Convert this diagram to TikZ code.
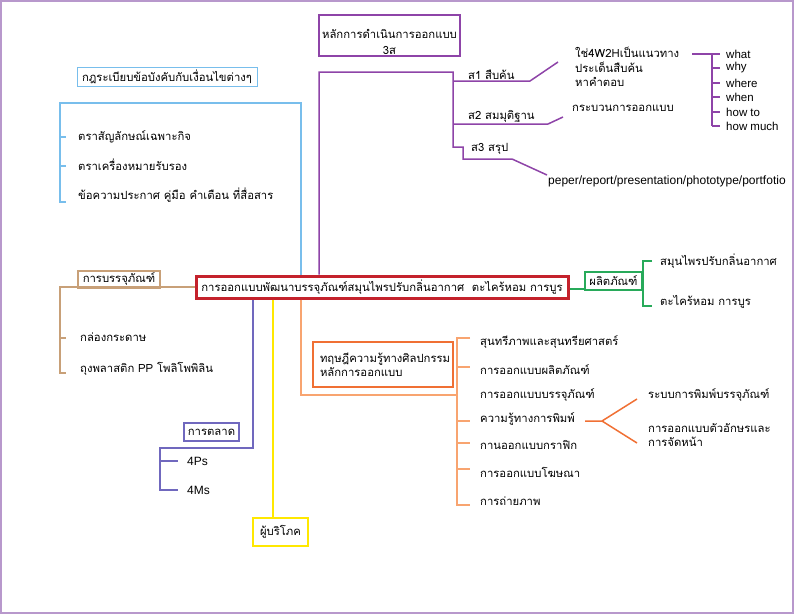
\documentclass[tikz,border=0pt]{standalone}
\usepackage{fontspec}
\setmainfont[Script=Thai]{Loma}
\newfontfamily\lat{Liberation Sans}
\definecolor{framec}{RGB}{184,152,204}
\definecolor{hubred}{RGB}{196,34,44}
\definecolor{spurple}{RGB}{142,68,168}
\definecolor{rblue}{RGB}{120,190,236}
\definecolor{ptan}{RGB}{200,160,120}
\definecolor{pgreen}{RGB}{40,170,90}
\definecolor{olight}{RGB}{248,164,112}
\definecolor{odark}{RGB}{240,112,52}
\definecolor{mindigo}{RGB}{112,104,190}
\definecolor{cyellow}{RGB}{255,232,0}
\begin{document}
\begin{tikzpicture}[x=1pt, y=-1pt,
  every node/.style={inner sep=0pt, font=\fontsize{11.3}{14.5}\selectfont},
  item/.style={anchor=west, align=left},
  latin/.style={font=\lat\fontsize{12}{14.5}\selectfont},
  boxed/.style={draw, line width=1.2pt, inner xsep=3pt, inner ysep=2pt},
  br/.style={line width=1.5pt}]
\useasboundingbox (0,0) rectangle (794,614);
\draw[framec, line width=1.5pt] (1,1) rectangle (793,613);

\node[draw=hubred, line width=3pt, minimum width=372, minimum height=22] (hub) at (382,287) {การออกแบบพัฒนาบรรจุภัณฑ์สมุนไพรปรับกลิ่นอากาศ \ ตะไคร้หอม การบูร};

\node[align=center] (plan) at (389.5,42) {หลักการดำเนินการออกแบบ\\[2pt]3ส};
\draw[spurple, line width=1.2pt] (319,15) rectangle (460,56);
\node[item] (s1) at (468,75) {ส1 สืบค้น};
\node[item] (s2) at (468,116) {ส2 สมมุติฐาน};
\node[item] (s3) at (471,149) {ส3 สรุป};
\node[item, anchor=north west] (w) at (575,47) {ใช่4W2Hเป็นแนวทาง\\ประเด็นสืบค้น\\หาคำตอบ};
\node[item] (proc) at (572,108) {กระบวนการออกแบบ};
\node[item, latin] (out) at (548,181) {peper/report/presentation/phototype/portfotio};
\coordinate (sRoot) at (319,72);
\coordinate (sTop) at (453,72);
\coordinate (sA) at (558,62);
\coordinate (sB) at (563,117);
\coordinate (sC) at (547,175);
\coordinate (sBr) at (712,54);
\draw[spurple, br] (hub.north -| sRoot) -- (sRoot) -- (sTop) -- (453,147) -- (463,147) -- (463,159) -- (512,159) -- (sC);
\draw[spurple, br] (453,81) -- (530,81) -- (sA);
\draw[spurple, br] (453,124) -- (548,124) -- (sB);
\draw[spurple, br] (692,54) -- (sBr) -- (712,126);
\foreach \y/\t in {54/what, 68/why, 83/where, 97/when, 112/how to, 126/how much}
  \node[item, font=\lat\fontsize{11.5}{14}\selectfont] (q\y) at (726,\y) {\t};
\foreach \y in {54,68,83,97,112,126}
  \draw[spurple, br] (712,\y) -- (720,\y);

\node[boxed, draw=rblue, line width=1pt, minimum width=180, minimum height=19] (rules) at (167,76.5) {กฎระเบียบข้อบังคับกับเงื่อนไขต่างๆ};
\coordinate (bTop) at (301,103);
\coordinate (bLeft) at (60,103);
\node[item] (r1) at (78,137) {ตราสัญลักษณ์เฉพาะกิจ};
\node[item] (r2) at (78,165) {ตราเครื่องหมายรับรอง};
\node[item] (r3) at (78,195) {ข้อความประกาศ คู่มือ คำเตือน ที่สื่อสาร};
\draw[rblue, br] (hub.north -| bTop) -- (bTop) -- (bLeft) -- (60,202) -- (66,202);
\draw[rblue, br] (60,137) -- (66,137) (60,166) -- (66,166);

\node[boxed, draw=ptan, minimum width=82, minimum height=16] (pack) at (119,279.5) {การบรรจุภัณฑ์};
\coordinate (pLeft) at (60,287);
\node[item] (p1) at (80,337) {กล่องกระดาษ};
\node[item] (p2) at (80,369) {ถุงพลาสติก PP โพลิโพพิลิน};
\draw[ptan, br] (hub.west) -- (pLeft) -- (60,373) -- (66,373);
\draw[ptan, br] (60,338) -- (66,338);

\node[boxed, draw=pgreen, minimum width=57, minimum height=18] (prod) at (613.5,281) {ผลิตภัณฑ์};
\coordinate (gLine) at (575,289);
\node[item] (g1) at (660,261) {สมุนไพรปรับกลิ่นอากาศ};
\node[item] (g2) at (660,302) {ตะไคร้หอม การบูร};
\draw[pgreen, br] (hub.east |- gLine) -- (prod.west |- gLine);
\draw[pgreen, br] (652,261) -- (643,261) -- (643,306) -- (652,306);

\node[draw=odark, line width=1.2pt, minimum width=140, minimum height=45, text width=126, align=left] (theory) at (383,364.5) {ทฤษฎีความรู้ทางศิลปกรรม\\หลักการออกแบบ};
\coordinate (oBot) at (301,395);
\draw[olight, br] (hub.south -| oBot) -- (oBot) -- (457,395);
\draw[olight, br] (470,338) -- (457,338) -- (457,505) -- (470,505);
\foreach \y in {367,421,443,469}
  \draw[olight, br] (457,\y) -- (470,\y);
\node[item] (o1) at (480,342) {สุนทรีภาพและสุนทรียศาสตร์};
\node[item] (o2) at (480,370) {การออกแบบผลิตภัณฑ์};
\node[item] (o3) at (480,395) {การออกแบบบรรจุภัณฑ์};
\node[item] (o4) at (480,419) {ความรู้ทางการพิมพ์};
\node[item] (o5) at (480,445) {กานออกแบบกราฟิก};
\node[item] (o6) at (480,472) {การออกแบบโฆษณา};
\node[item] (o7) at (480,501) {การถ่ายภาพ};
\node[item] (t1) at (648,395) {ระบบการพิมพ์บรรจุภัณฑ์};
\node[item, anchor=north west] (t2) at (648,423) {การออกแบบตัวอักษรและ\\การจัดหน้า};
\coordinate (tFork) at (602,421);
\draw[odark, br] (585,421) -- (tFork) -- (637,399);
\draw[odark, br] (tFork) -- (637,443);

\node[boxed, draw=mindigo, minimum width=55, minimum height=18] (mkt) at (211.5,432) {การตลาด};
\coordinate (mk) at (253,448);
\node[item, latin] (m1) at (187,461) {4Ps};
\node[item, latin] (m2) at (187,490) {4Ms};
\draw[mindigo, br] (hub.south -| mk) -- (mk) -- (160,448) -- (160,490) -- (178,490);
\draw[mindigo, br] (160,461) -- (178,461);

\node[draw=cyellow, line width=1.2pt, minimum width=55, minimum height=28] (cons) at (280.5,532) {ผู้บริโภค};
\coordinate (cy) at (273,518);
\draw[cyellow, br] (hub.south -| cy) -- (cy);
\end{tikzpicture}
\end{document}
